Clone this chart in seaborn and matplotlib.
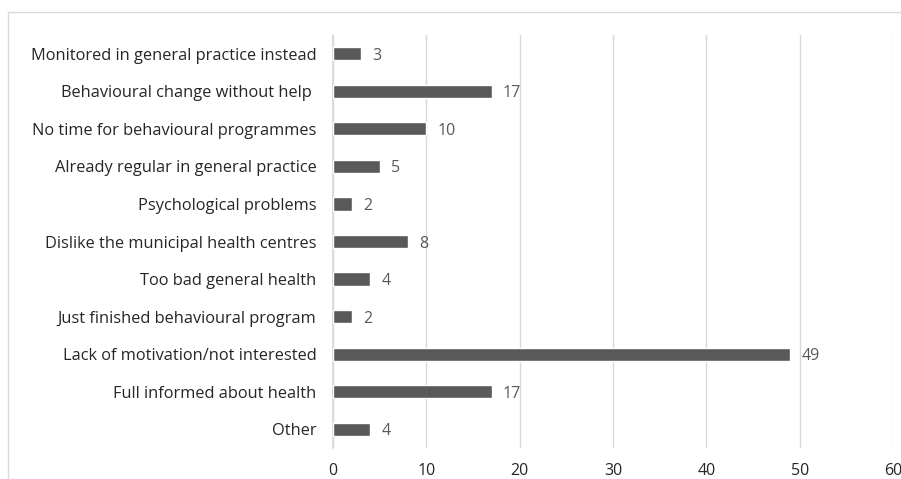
import matplotlib
matplotlib.use("Agg")
import matplotlib.pyplot as plt
import seaborn as sns
import pandas as pd
from matplotlib.patches import Rectangle

# Datos
razones = [
    "Monitored in general practice instead",
    "Behavioural change without help ",
    "No time for behavioural programmes",
    "Already regular in general practice",
    "Psychological problems",
    "Dislike the municipal health centres",
    "Too bad general health",
    "Just finished behavioural program",
    "Lack of motivation/not interested",
    "Full informed about health",
    "Other",
]
valores = [3, 17, 10, 5, 2, 8, 4, 2, 49, 17, 4]
ticks_x = [0, 10, 20, 30, 40, 50, 60]

df = pd.DataFrame({"razon": razones, "n": valores})

sns.set_theme(style="white")
plt.rcParams["font.family"] = ["Open Sans", "DejaVu Sans"]

fig = plt.figure(figsize=(9.01, 4.79), dpi=100)
ax = fig.add_axes([333 / 901, 31 / 479, 560 / 901, 413 / 479])

sns.barplot(data=df, y="razon", x="n", color="#595959", width=0.35,
            saturation=1, ax=ax, zorder=3)

ax.set_xlim(0, 60)
ax.set_xticks(ticks_x)
ax.set_xlabel("")
ax.set_ylabel("")
ax.grid(axis="x", color="#d9d9d9", linewidth=1, zorder=0)
ax.grid(axis="y", visible=False)
for s in ["top", "right", "bottom"]:
    ax.spines[s].set_visible(False)
ax.spines["left"].set_color("#d9d9d9")
ax.spines["left"].set_zorder(1)

ax.tick_params(axis="x", length=0, pad=11, labelsize=11.5, labelcolor="#262626")
ax.tick_params(axis="y", length=0, pad=12, labelsize=11.8, labelcolor="#262626")

# etiquetas de valor
for cont in ax.containers:
    for txt in ax.bar_label(cont, padding=8, color="#595959"):
        txt.set_fontsize(11.5)
        txt.set_va("center")
        txt.xyann = (8, -1.5)

# borde del área del gráfico (recortado)
fig.patches.append(Rectangle((8 / 901, -0.1), 1.2, (479 - 12) / 479 + 0.1,
                             transform=fig.transFigure, fill=False,
                             edgecolor="#d9d9d9", linewidth=1))

plt.savefig("out.png", dpi=100)
plt.close()
